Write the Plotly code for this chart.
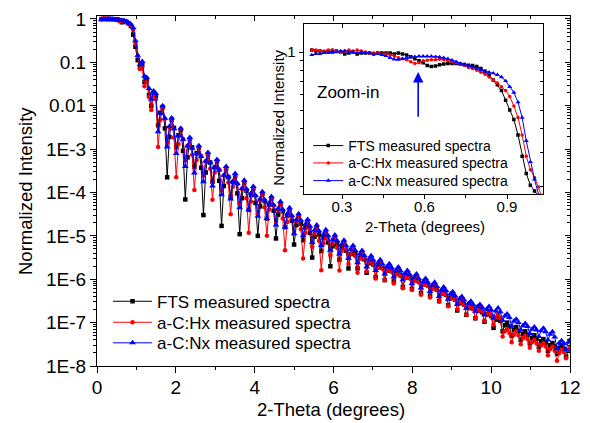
import plotly.graph_objects as go

# ---------------- data (log10 of normalized intensity) ----------------
SERIES_NAMES = ["FTS measured spectra", "a-C:Hx measured spectra", "a-C:Nx measured spectra"]

# main panel: samples start at 0.1125 deg, every 0.0575 deg
MAIN_X_START = 0.1125
MAIN_X_STEP = 0.0575

FTS_LOG10 = [
    -0.005, 0.0, 0.0, -0.005, 0.0, -0.005, -0.005, -0.01, -0.03, -0.075, -0.065, -0.065, -0.1,
    -0.16, -0.36, -0.64, -0.95, -1.12, -1.05, -1.45, -1.42, -1.75, -2.0, -1.7, -1.78,
    -2.45, -2.16, -2.03, -2.52,
    -3.65, -2.72, -2.32, -2.51,
    -2.95, -2.68, -2.56, -3.04,
    -4.16, -3.19, -2.77, -2.96,
    -3.4, -3.09, -2.96, -3.43,
    -4.52, -3.54, -3.12, -3.31,
    -3.75, -3.42, -3.28, -3.73,
    -4.77, -3.85, -3.45, -3.65,
    -4.1, -3.76, -3.62, -4.02,
    -4.96, -4.13, -3.77, -3.96,
    -4.4, -4.06, -3.91, -4.24,
    -5.0, -4.32, -4.03, -4.2,
    -4.6, -4.28, -4.14, -4.42,
    -5.06, -4.51, -4.27, -4.43,
    -4.8, -4.53, -4.41, -4.65,
    -5.2, -4.75, -4.55, -4.72,
    -5.1, -4.81, -4.68, -4.93,
    -5.5, -5.02, -4.81, -4.97,
    -5.35, -5.05, -4.92, -5.15,
    -5.7, -5.24, -5.04, -5.19,
    -5.55, -5.28, -5.16, -5.34,
    -5.75, -5.42, -5.28, -5.42,
    -5.75, -5.51, -5.4, -5.54,
    -5.85, -5.63, -5.53, -5.66,
    -5.95, -5.72, -5.62, -5.74,
    -6.02, -5.8, -5.71, -5.81,
    -6.05, -5.87, -5.79, -5.91,
    -6.18, -5.96, -5.86, -5.97,
    -6.22, -6.02, -5.94, -6.05,
    -6.32, -6.12, -6.03, -6.14,
    -6.38, -6.21, -6.13, -6.24,
    -6.5, -6.33, -6.25, -6.36,
    -6.6, -6.43, -6.36, -6.47,
    -6.72, -6.55, -6.48, -6.58,
    -6.82, -6.66, -6.59, -6.68,
    -6.9, -6.73, -6.66, -6.76,
    -6.98, -6.81, -6.73, -6.85,
    -7.12, -6.93, -6.85, -6.96,
    -7.2, -7.06, -7.0, -7.09,
    -7.3, -7.16, -7.1, -7.19,
    -7.4, -7.26, -7.2, -7.28,
    -7.48, -7.35, -7.29, -7.37,
    -7.56, -7.43, -7.38, -7.46,
    -7.65, -7.52, -7.47, -7.55,
    -7.72, -7.59, -7.53, -7.61,
    -7.78, -7.65, -7.6,
]

HX_LOG10 = [
    0.005, 0.01, 0.005, 0.01, 0.005, 0.0, -0.005, -0.02, -0.05, -0.04, -0.04, -0.07, -0.1,
    -0.15, -0.25, -0.57, -0.85, -1.15, -1.12, -1.55, -1.45, -1.8, -2.1, -1.75, -1.85,
    -2.95, -2.33, -2.06, -2.3,
    -2.85, -2.49, -2.34, -2.73,
    -3.65, -2.88, -2.55, -2.76,
    -3.25, -2.92, -2.78, -3.13,
    -3.94, -3.25, -2.95, -3.15,
    -3.6, -3.28, -3.14, -3.45,
    -4.17, -3.54, -3.27, -3.47,
    -3.95, -3.61, -3.46, -3.77,
    -4.5, -3.87, -3.6, -3.8,
    -4.25, -3.92, -3.78, -4.13,
    -4.93, -4.21, -3.9, -4.08,
    -4.5, -4.19, -4.05, -4.34,
    -5.0, -4.39, -4.13, -4.3,
    -4.7, -4.41, -4.28, -4.6,
    -5.33, -4.68, -4.4, -4.57,
    -4.95, -4.68, -4.56, -4.85,
    -5.52, -4.93, -4.67, -4.84,
    -5.25, -4.95, -4.82, -5.11,
    -5.79, -5.17, -4.91, -5.07,
    -5.45, -5.17, -5.05, -5.28,
    -5.8, -5.35, -5.15, -5.3,
    -5.65, -5.41, -5.3, -5.47,
    -5.85, -5.53, -5.39, -5.52,
    -5.82, -5.61, -5.52, -5.66,
    -5.98, -5.74, -5.63, -5.75,
    -6.02, -5.8, -5.7, -5.82,
    -6.1, -5.89, -5.8, -5.92,
    -6.21, -5.96, -5.85, -5.97,
    -6.25, -6.04, -5.95, -6.07,
    -6.36, -6.12, -6.02, -6.14,
    -6.42, -6.22, -6.14, -6.25,
    -6.52, -6.32, -6.24, -6.35,
    -6.62, -6.45, -6.37, -6.47,
    -6.7, -6.54, -6.47, -6.58,
    -6.82, -6.67, -6.6, -6.69,
    -6.9, -6.73, -6.65, -6.74,
    -6.96, -6.81, -6.74, -6.83,
    -7.05, -6.88, -6.8, -6.9,
    -7.32, -7.2, -7.15, -7.24,
    -7.45, -7.28, -7.2, -7.29,
    -7.5, -7.36, -7.3, -7.38,
    -7.58, -7.45, -7.4, -7.48,
    -7.65, -7.52, -7.47, -7.55,
    -7.75, -7.61, -7.55, -7.65,
    -7.88, -7.7, -7.62, -7.68,
    -7.82, -7.63, -7.55,
]

NX_LOG10 = [
    -0.01, -0.005, -0.005, 0.0, -0.005, -0.005, -0.01, -0.02, -0.03, -0.03, -0.035, -0.06, -0.09,
    -0.12, -0.2, -0.5, -0.85, -1.05, -0.98, -1.32, -1.35, -1.6, -1.85, -1.66, -1.72,
    -2.6, -2.18, -2.0, -2.29,
    -2.95, -2.48, -2.28, -2.53,
    -3.1, -2.69, -2.52, -2.78,
    -3.4, -2.93, -2.73, -2.98,
    -3.55, -3.11, -2.92, -3.17,
    -3.75, -3.28, -3.08, -3.31,
    -3.85, -3.42, -3.24, -3.48,
    -4.05, -3.6, -3.4, -3.63,
    -4.15, -3.74, -3.56, -3.8,
    -4.35, -3.91, -3.72, -3.92,
    -4.4, -4.02, -3.86, -4.07,
    -4.55, -4.15, -3.98, -4.17,
    -4.6, -4.24, -4.09, -4.29,
    -4.75, -4.37, -4.21, -4.39,
    -4.8, -4.49, -4.35, -4.53,
    -4.95, -4.63, -4.49, -4.64,
    -5.0, -4.73, -4.62, -4.78,
    -5.15, -4.87, -4.75, -4.89,
    -5.22, -4.97, -4.86, -5.0,
    -5.33, -5.09, -4.98, -5.11,
    -5.42, -5.2, -5.1, -5.23,
    -5.52, -5.31, -5.22, -5.34,
    -5.62, -5.42, -5.34, -5.45,
    -5.72, -5.54, -5.46, -5.56,
    -5.8, -5.63, -5.55, -5.65,
    -5.88, -5.71, -5.64, -5.73,
    -5.95, -5.79, -5.72, -5.81,
    -6.02, -5.87, -5.8, -5.89,
    -6.1, -5.95, -5.88, -5.98,
    -6.2, -6.05, -5.98, -6.07,
    -6.28, -6.13, -6.07, -6.17,
    -6.4, -6.25, -6.18, -6.26,
    -6.46, -6.34, -6.29, -6.38,
    -6.58, -6.45, -6.4, -6.48,
    -6.67, -6.56, -6.51, -6.58,
    -6.74, -6.63, -6.58, -6.65,
    -6.82, -6.69, -6.63, -6.71,
    -6.9, -6.73, -6.66, -6.75,
    -6.95, -6.85, -6.8, -6.88,
    -7.08, -6.97, -6.92, -7.0,
    -7.17, -7.07, -7.02, -7.09,
    -7.25, -7.15, -7.1, -7.17,
    -7.32, -7.19, -7.13, -7.21,
    -7.4, -7.27, -7.21, -7.33,
    -7.6, -7.47, -7.42, -7.48,
    -7.62, -7.45, -7.38,
]

# zoom-in panel: samples start at 0.19 deg, every 0.015 deg
ZOOM_X_START = 0.19
ZOOM_X_STEP = 0.015

FTS_ZOOM_LOG10 = [
    0.01, 0.005, 0.005, 0.0, 0.005, 0.0, 0.005, 0.0, -0.01, -0.005, 0.0, -0.01, -0.005, -0.005,
    -0.005, -0.01, -0.005, -0.005, -0.005, -0.005, -0.01, -0.005, -0.01, -0.015, -0.025, -0.035,
    -0.045, -0.055, -0.07, -0.075, -0.072, -0.066, -0.062, -0.06, -0.06, -0.06, -0.062, -0.065,
    -0.068, -0.07, -0.075, -0.085, -0.1, -0.12, -0.145, -0.17, -0.2, -0.25, -0.3, -0.35, -0.43,
    -0.54, -0.63, -0.69, -0.72, -0.75, -0.8,
]
HX_ZOOM_LOG10 = [
    0.01, 0.01, 0.005, 0.005, 0.01, 0.012, 0.005, 0.0, 0.005, 0.01, 0.005, 0.01, 0.005, 0.0,
    -0.005, -0.005, -0.005, -0.01, -0.01, -0.015, -0.02, -0.03, -0.035, -0.04, -0.05, -0.06,
    -0.055, -0.045, -0.042, -0.04, -0.04, -0.038, -0.04, -0.045, -0.05, -0.055, -0.065, -0.07,
    -0.08, -0.085, -0.095, -0.105, -0.115, -0.13, -0.145, -0.16, -0.18, -0.2, -0.23, -0.28,
    -0.34, -0.43, -0.54, -0.61, -0.65, -0.7, -0.76,
]
NX_ZOOM_LOG10 = [
    -0.015, -0.01, -0.01, -0.005, -0.005, 0.0, 0.0, 0.005, 0.005, 0.0, 0.0, -0.005, 0.0, -0.005,
    -0.005, -0.01, -0.01, -0.015, -0.02, -0.03, -0.038, -0.04, -0.035, -0.03, -0.026, -0.024,
    -0.022, -0.022, -0.022, -0.022, -0.024, -0.026, -0.03, -0.035, -0.042, -0.05, -0.06, -0.065,
    -0.072, -0.078, -0.085, -0.092, -0.1, -0.105, -0.11, -0.118, -0.13, -0.15, -0.18, -0.21,
    -0.26, -0.34, -0.46, -0.57, -0.66, -0.74, -0.8,
]

MAIN_YTICK_VALS = [1e-8, 1e-7, 1e-6, 1e-5, 1e-4, 1e-3, 0.01, 0.1, 1]
MAIN_YTICK_TEXT = ["1E-8", "1E-7", "1E-6", "1E-5", "1E-4", "1E-3", "0.01", "0.1", "1"]
ZOOM_XTICK_VALS = [0.3, 0.6, 0.9]
ZOOM_XTICK_TEXT = ["0.3", "0.6", "0.9"]

# ---------------- helpers ----------------
def grid(start, step, n):
    return [round(start + step * i, 5) for i in range(n)]

def unlog(vals):
    return [10 ** v for v in vals]

FONT = "Liberation Sans, Arial, Helvetica, sans-serif"
COLORS = ["#000000", "#ff0000", "#0000ff"]
SYMBOLS = ["square", "circle", "triangle-up"]
MSIZE_MAIN = [4.5, 4.5, 6]
MSIZE_ZOOM = [3.5, 3.5, 4.5]

MAIN_LEGENDS = ["legend", "legend2", "legend3"]
ZOOM_LEGENDS = ["legend4", "legend5", "legend6"]

fig = go.Figure()

main_sets = [FTS_LOG10, HX_LOG10, NX_LOG10]
for name, vals, c, s, ms, lg in zip(SERIES_NAMES, main_sets, COLORS, SYMBOLS, MSIZE_MAIN, MAIN_LEGENDS):
    fig.add_trace(go.Scatter(
        x=grid(MAIN_X_START, MAIN_X_STEP, len(vals)), y=unlog(vals),
        mode="lines+markers", name=name,
        line=dict(color=c, width=1),
        marker=dict(symbol=s, size=ms, color=c, line=dict(width=0)),
        xaxis="x", yaxis="y", legend=lg,
    ))

zoom_sets = [FTS_ZOOM_LOG10, HX_ZOOM_LOG10, NX_ZOOM_LOG10]
for name, vals, c, s, ms, lg in zip(SERIES_NAMES, zoom_sets, COLORS, SYMBOLS, MSIZE_ZOOM, ZOOM_LEGENDS):
    fig.add_trace(go.Scatter(
        x=grid(ZOOM_X_START, ZOOM_X_STEP, len(vals)), y=unlog(vals),
        mode="lines+markers", name=name,
        line=dict(color=c, width=1),
        marker=dict(symbol=s, size=ms, color=c, line=dict(width=0)),
        xaxis="x3", yaxis="y3", legend=lg,
    ))

# invisible anchors so the mirrored (top/right) axes are drawn
fig.add_trace(go.Scatter(x=[6], y=[1e-4], xaxis="x2", yaxis="y2", mode="markers",
                         marker=dict(opacity=0), showlegend=False, hoverinfo="skip"))
fig.add_trace(go.Scatter(x=[0.5], y=[0.5], xaxis="x4", yaxis="y4", mode="markers",
                         marker=dict(opacity=0), showlegend=False, hoverinfo="skip"))

major_minor = [m * 10 ** e for e in range(-8, 0) for m in range(2, 10)]
zoom_minor = [0.2, 0.3, 0.4, 0.5, 0.6, 0.7, 0.8, 0.9]

MAIN_YRANGE = [-8, 0.069]
ZOOM_YRANGE = [-0.736, 0.145]
ZX = [0.4366, 0.9424]
ZY = [0.4914, 0.977]

tick_font_main = dict(family=FONT, size=19, color="black")
tick_font_zoom = dict(family=FONT, size=15, color="black")

common = dict(showgrid=False, zeroline=False, automargin=False, tickcolor="black",
              linecolor="black", showline=True)

layout = dict(
    template="none",
    width=590, height=423,
    margin=dict(l=89, r=28, t=8, b=65, pad=0),
    paper_bgcolor="white", plot_bgcolor="white",
    font=dict(family=FONT, color="black"),
    xaxis=dict(domain=[0, 1], range=[0, 12], dtick=2, tick0=0, ticks="outside", ticklen=6,
               tickwidth=1.3, linewidth=1.3, tickfont=tick_font_main, anchor="y",
               ticklabelstandoff=-2,
               minor=dict(dtick=1, tick0=0, ticks="outside", ticklen=3, tickwidth=1.1,
                          tickcolor="black", showgrid=False), **common),
    xaxis2=dict(overlaying="x", side="top", anchor="y", range=[0, 12], dtick=2, tick0=0,
                ticks="inside", ticklen=5, tickwidth=1.3, showticklabels=False, linewidth=1.3,
                minor=dict(dtick=1, tick0=0, ticks="inside", ticklen=3, tickwidth=1.1,
                           tickcolor="black", showgrid=False), **common),
    yaxis=dict(domain=[0, 1], type="log", range=MAIN_YRANGE, tickmode="array",
               tickvals=MAIN_YTICK_VALS, ticktext=MAIN_YTICK_TEXT, ticks="outside", ticklen=6,
               tickwidth=1.3, linewidth=1.3, tickfont=tick_font_main, anchor="x",
               minor=dict(tickmode="array", tickvals=major_minor, ticks="outside", ticklen=3,
                          tickwidth=1, tickcolor="black", showgrid=False), **common),
    yaxis2=dict(overlaying="y", side="right", anchor="x", type="log", range=MAIN_YRANGE,
                tickmode="array", tickvals=MAIN_YTICK_VALS, ticks="inside", ticklen=5,
                tickwidth=1.3, showticklabels=False, linewidth=1.3,
                minor=dict(tickmode="array", tickvals=major_minor, ticks="inside", ticklen=3,
                           tickwidth=1, tickcolor="black", showgrid=False), **common),
    xaxis3=dict(domain=ZX, anchor="y3", range=[0.16, 1.03], tickmode="array",
                tickvals=ZOOM_XTICK_VALS, ticktext=ZOOM_XTICK_TEXT, ticks="outside", ticklen=4,
                tickwidth=1, linewidth=1, tickfont=tick_font_zoom, ticklabelstandoff=-5,
                minor=dict(tickmode="array", tickvals=[0.45, 0.75], ticks="outside", ticklen=2.5,
                           tickwidth=1, tickcolor="black", showgrid=False), **common),
    xaxis4=dict(overlaying="x3", side="top", anchor="y3", range=[0.16, 1.03], tickmode="array",
                tickvals=ZOOM_XTICK_VALS, ticks="inside", ticklen=4, tickwidth=1,
                showticklabels=False, linewidth=1,
                minor=dict(tickmode="array", tickvals=[0.45, 0.75], ticks="inside", ticklen=2.5,
                           tickwidth=1, tickcolor="black", showgrid=False), **common),
    yaxis3=dict(domain=ZY, anchor="x3", type="log", range=ZOOM_YRANGE, tickmode="array",
                tickvals=[1], ticktext=["1"], ticks="outside", ticklen=4, tickwidth=1,
                linewidth=1, tickfont=tick_font_zoom,
                minor=dict(tickmode="array", tickvals=zoom_minor, ticks="outside", ticklen=2.5,
                           tickwidth=1, tickcolor="black", showgrid=False), **common),
    yaxis4=dict(overlaying="y3", side="right", anchor="x3", type="log", range=ZOOM_YRANGE,
                tickmode="array", tickvals=[1], ticks="inside", ticklen=4, tickwidth=1,
                showticklabels=False, linewidth=1,
                minor=dict(tickmode="array", tickvals=zoom_minor, ticks="inside", ticklen=2.5,
                           tickwidth=1, tickcolor="black", showgrid=False), **common),
    showlegend=True,
)

# one legend per row so each row sits where the reference puts it
MAIN_ROW_Y = [0.1837, 0.1237, 0.0649]
ZOOM_ROW_Y = [0.6286, 0.5791, 0.5286]
for lg, yy in zip(MAIN_LEGENDS, MAIN_ROW_Y):
    layout[lg] = dict(x=0.0233, y=yy, xanchor="left", yanchor="middle", bgcolor="rgba(0,0,0,0)",
                      font=dict(family=FONT, size=17, color="black"), itemwidth=39,
                      borderwidth=0)
for lg, yy in zip(ZOOM_LEGENDS, ZOOM_ROW_Y):
    layout[lg] = dict(x=0.4467, y=yy, xanchor="left", yanchor="middle", bgcolor="rgba(0,0,0,0)",
                      font=dict(family=FONT, size=14, color="black"), itemwidth=30,
                      borderwidth=0)

fig.update_layout(**layout)

annotations = [
    dict(text="2-Theta (degrees)", xref="paper", yref="paper", x=0.494, y=-0.1257,
         showarrow=False, font=dict(family=FONT, size=18.5, color="black"),
         xanchor="center", yanchor="middle"),
    dict(text="Normalized Intensity", xref="paper", yref="paper", x=-0.1522, y=0.5,
         textangle=-90, showarrow=False, font=dict(family=FONT, size=18.5, color="black"),
         xanchor="center", yanchor="middle"),
    dict(text="2-Theta (degrees)", xref="paper", yref="paper", x=0.6945, y=0.398,
         showarrow=False, font=dict(family=FONT, size=15, color="black"),
         xanchor="center", yanchor="middle"),
    dict(text="Normalized Intensity", xref="paper", yref="paper", x=0.3833, y=0.71,
         textangle=-90, showarrow=False, font=dict(family=FONT, size=15, color="black"),
         xanchor="center", yanchor="middle"),
    dict(text="Zoom-in", xref="paper", yref="paper", x=0.4609, y=0.781,
         showarrow=False, font=dict(family=FONT, size=17, color="black"),
         xanchor="left", yanchor="middle"),
    dict(text="", xref="x3", yref="y3", x=0.577, y=-0.104, axref="x3", ayref="y3",
         ax=0.577, ay=-0.3435, showarrow=True, arrowhead=2, arrowsize=1.3, arrowwidth=1.6,
         arrowcolor="#0000ff", standoff=0, startstandoff=0),
]
fig.update_layout(annotations=annotations)

fig.write_html("out.html")
